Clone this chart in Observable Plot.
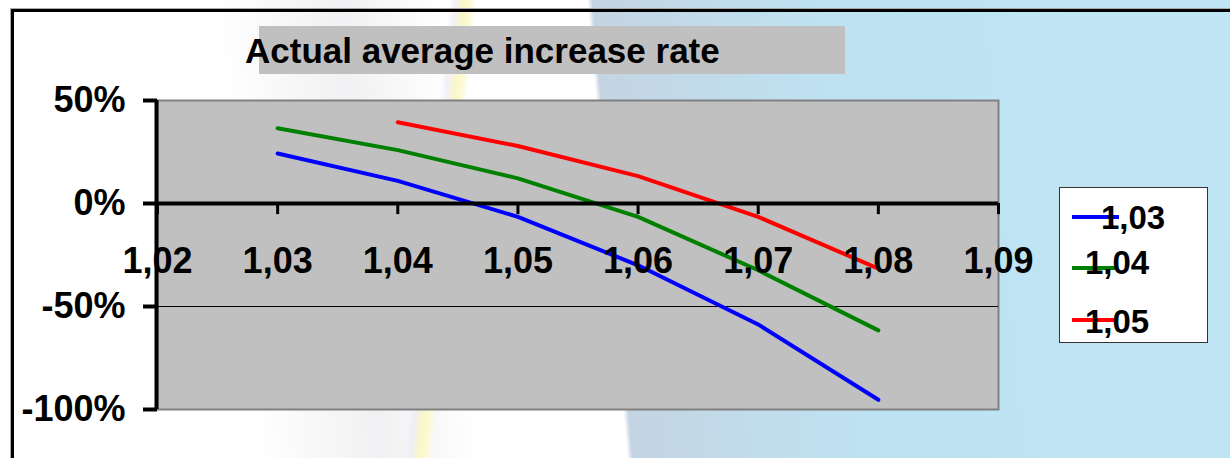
<!DOCTYPE html>
<html>
<head>
<meta charset="utf-8">
<script src="https://cdn.jsdelivr.net/npm/d3@7"></script>
<script src="https://cdn.jsdelivr.net/npm/@observablehq/plot@0.6"></script>
<style>
  html, body { margin: 0; padding: 0; background: #fff; }
  #wrap {
    position: relative; width: 1230px; height: 458px; overflow: hidden;
    font-family: "Liberation Sans", Arial, sans-serif;
    background:
      linear-gradient(95.6deg, rgba(255,255,255,0) 35.2%, rgba(236,234,246,0.7) 35.7%, rgba(250,247,196,0.95) 36.4%, rgba(252,250,215,0.9) 37.0%, rgba(255,255,255,0) 37.4%),
      linear-gradient(85deg, #ffffff 0%, #ffffff 20%, #f1f1f3 30%, #ffffff 38%, #ffffff 49.4%, #c4d4e2 49.8%, #c2d9e8 56%, #bee2f2 68%, #bfe5f5 100%);
  }
  #frame {
    position: absolute; left: 11px; top: 9px; width: 1300px; height: 500px;
    border-left: 3px solid #000; border-top: 3px solid #000;
    box-shadow: -1px -1px 0 #aaa;
  }
  #chart { position: absolute; left: 0; top: 0; }
  #titlebox { position: absolute; left: 259px; top: 26px; width: 586px; height: 48px; background: #c0c0c0; }
  #title {
    position: absolute; left: 245px; top: 33px; font-size: 35px; line-height: 35px;
    font-weight: bold; color: #000; white-space: nowrap;
  }
  #legend {
    position: absolute; left: 1059px; top: 187px; width: 147px; height: 154px;
    background: #fff; border: 1.5px solid #333;
  }
  .lg-line { position: absolute; height: 4px; }
  .lg-text { position: absolute; font-size: 33px; line-height: 33px; font-weight: bold; color: #000; white-space: nowrap; }
</style>
</head>
<body>
<div id="wrap">
  <div id="frame"></div>
  <div id="titlebox"></div>
  <div id="chart"></div>
  <div id="title"></div>
  <div id="legend"></div>
</div>
<script>
// ---- data (values in percent) ----
const titleText = "Actual average increase rate";
const xValues = [1.03, 1.04, 1.05, 1.06, 1.07, 1.08];
const seriesNames = ["1,03", "1,04", "1,05"];
const seriesColors = ["#0000ff", "#008000", "#ff0000"];
const s103 = [24.3, 11.0, -6.5, -30.0, -58.7, -95.3];
const s104 = [36.5, 25.9, 12.2, -6.5, -32.4, -61.6];
const s105 = [null, 39.4, 27.9, 13.3, -6.5, -31.6];
const xTicks = [1.02, 1.03, 1.04, 1.05, 1.06, 1.07, 1.08, 1.09];
const yTicks = [50, 0, -50, -100];

const seriesValues = [s103, s104, s105];
const rows = [];
seriesValues.forEach((vals, si) => {
  vals.forEach((v, i) => {
    if (v !== null) rows.push({series: seriesNames[si], x: xValues[i], y: v});
  });
});

const fmtX = d => d.toFixed(2).replace(".", ",");
const fmtY = d => Math.round(d) + "%";

const chart = Plot.plot({
  width: 1230,
  height: 458,
  marginLeft: 157,
  marginRight: 232,
  marginTop: 100,
  marginBottom: 49,
  style: {background: "transparent", fontFamily: "'Liberation Sans', Arial, sans-serif", overflow: "visible"},
  x: {domain: [1.02, 1.09], axis: null},
  y: {domain: [-100, 50], axis: null},
  color: {domain: seriesNames, range: seriesColors},
  marks: [
    Plot.frame({fill: "#c0c0c0", stroke: "#808080", strokeWidth: 2}),
    Plot.ruleY([-50], {stroke: "#000", strokeWidth: 1}),
    Plot.line(rows, {x: "x", y: "y", z: "series", stroke: "series", strokeWidth: 4, curve: "linear"}),
    // x axis line at 0%
    Plot.ruleY([0], {stroke: "#000", strokeWidth: 4}),
    Plot.ruleX(xTicks, {x: d => d, y1: 0, y2: -5.4, stroke: "#000", strokeWidth: 3}),
    Plot.text(xTicks, {x: d => d, y: 0, dy: 58, text: fmtX, fontSize: 36, fontWeight: "bold", fill: "#000"}),
    // y axis
    Plot.ruleX([1.02], {stroke: "#000", strokeWidth: 4, dx: -1}),
    Plot.axisY(yTicks, {tickFormat: fmtY, tickSize: 14, tickPadding: 18, fontSize: 36, fontWeight: "bold", stroke: "#000", strokeWidth: 4, fill: "#000", dy: 0, label: null})
  ]
});
document.getElementById("chart").appendChild(chart);
document.getElementById("title").textContent = titleText;

// legend
const legend = document.getElementById("legend");
const lineTops = [27, 78, 130];
const textTops = [13, 58, 117];
const textLefts = [41, 25, 25];
seriesNames.forEach((name, i) => {
  const ln = document.createElement("div");
  ln.className = "lg-line";
  ln.style.left = "12px";
  ln.style.width = (i === 0 ? 47 : 43) + "px";
  ln.style.top = lineTops[i] + "px";
  ln.style.background = seriesColors[i];
  legend.appendChild(ln);
  const tx = document.createElement("div");
  tx.className = "lg-text";
  tx.style.left = textLefts[i] + "px";
  tx.style.top = textTops[i] + "px";
  tx.textContent = name;
  legend.appendChild(tx);
});
</script>
</body>
</html>
